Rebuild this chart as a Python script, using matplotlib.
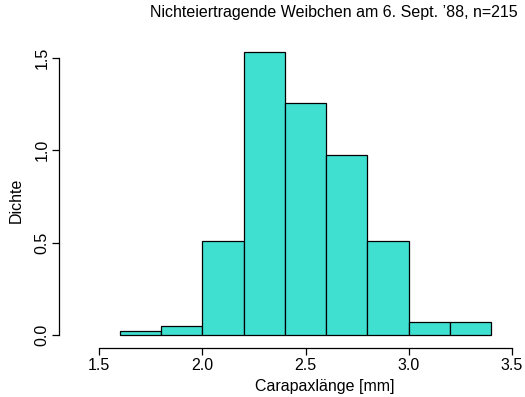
import numpy as np
import matplotlib
matplotlib.use("Agg")
from matplotlib import pyplot as plt

plt.rcParams['font.family'] = ['Liberation Sans', 'DejaVu Sans']

# histogram data (density scale), bins of 0.2 mm
bin_edges = [1.6, 1.8, 2.0, 2.2, 2.4, 2.6, 2.8, 3.0, 3.2, 3.4]
counts = [1, 2, 22, 66, 54, 42, 22, 3, 3]
n = 215
x_ticks = [1.5, 2.0, 2.5, 3.0, 3.5]
y_ticks = [0.0, 0.5, 1.0, 1.5]

W, H = 525, 397
fig = plt.figure(figsize=(W / 100, H / 100), dpi=100)

# pixel layout taken from reference
px_left, px_right, px_bottom, px_top = 59, 522, 348, 36
x15, x35 = 99, 512
y0, y15 = 335, 58
sx = (x35 - x15) / 2.0
sy = (y0 - y15) / 1.5

ax = fig.add_axes([px_left / W, (H - px_bottom) / H,
                   (px_right - px_left) / W, (px_bottom - px_top) / H])
ax.set_xlim(1.5 - (x15 - px_left) / sx, 3.5 + (px_right - x35) / sx)
ax.set_ylim(-(px_bottom - y0) / sy, 1.5 + (y15 - px_top) / sy)

edges = np.array(bin_edges)
widths = np.diff(edges)
dens = np.array(counts) / (n * widths)
ax.bar(edges[:-1], dens, width=widths, align='edge', color='#40E0D0',
       edgecolor='black', linewidth=0.9)

for s in ['top', 'right']:
    ax.spines[s].set_visible(False)
ax.spines['left'].set_bounds(0, 1.5)
ax.spines['bottom'].set_bounds(1.5, 3.5)
ax.spines['left'].set_linewidth(0.9)
ax.spines['bottom'].set_linewidth(0.9)

fs = 11.5
ax.set_xticks(x_ticks)
ax.set_xticklabels(["%.1f" % v for v in x_ticks])
ax.set_yticks(y_ticks)
ax.set_yticklabels(["%.1f" % v for v in y_ticks], rotation=90, va='center')
ax.tick_params(direction='out', length=5, width=0.9, labelsize=fs, pad=2)

fig.text(16 / W, 1 - 200 / H, "Dichte", rotation=90, ha='center', va='center', fontsize=fs)
fig.text(325 / W, 1 - 386 / H, "Carapaxlänge [mm]", ha='center', va='center', fontsize=fs)
fig.text(518 / W, 1 - 12 / H, "Nichteiertragende Weibchen am 6. Sept. \u201988, n=215",
         ha='right', va='center', fontsize=fs)

fig.savefig("out.png", dpi=100)
